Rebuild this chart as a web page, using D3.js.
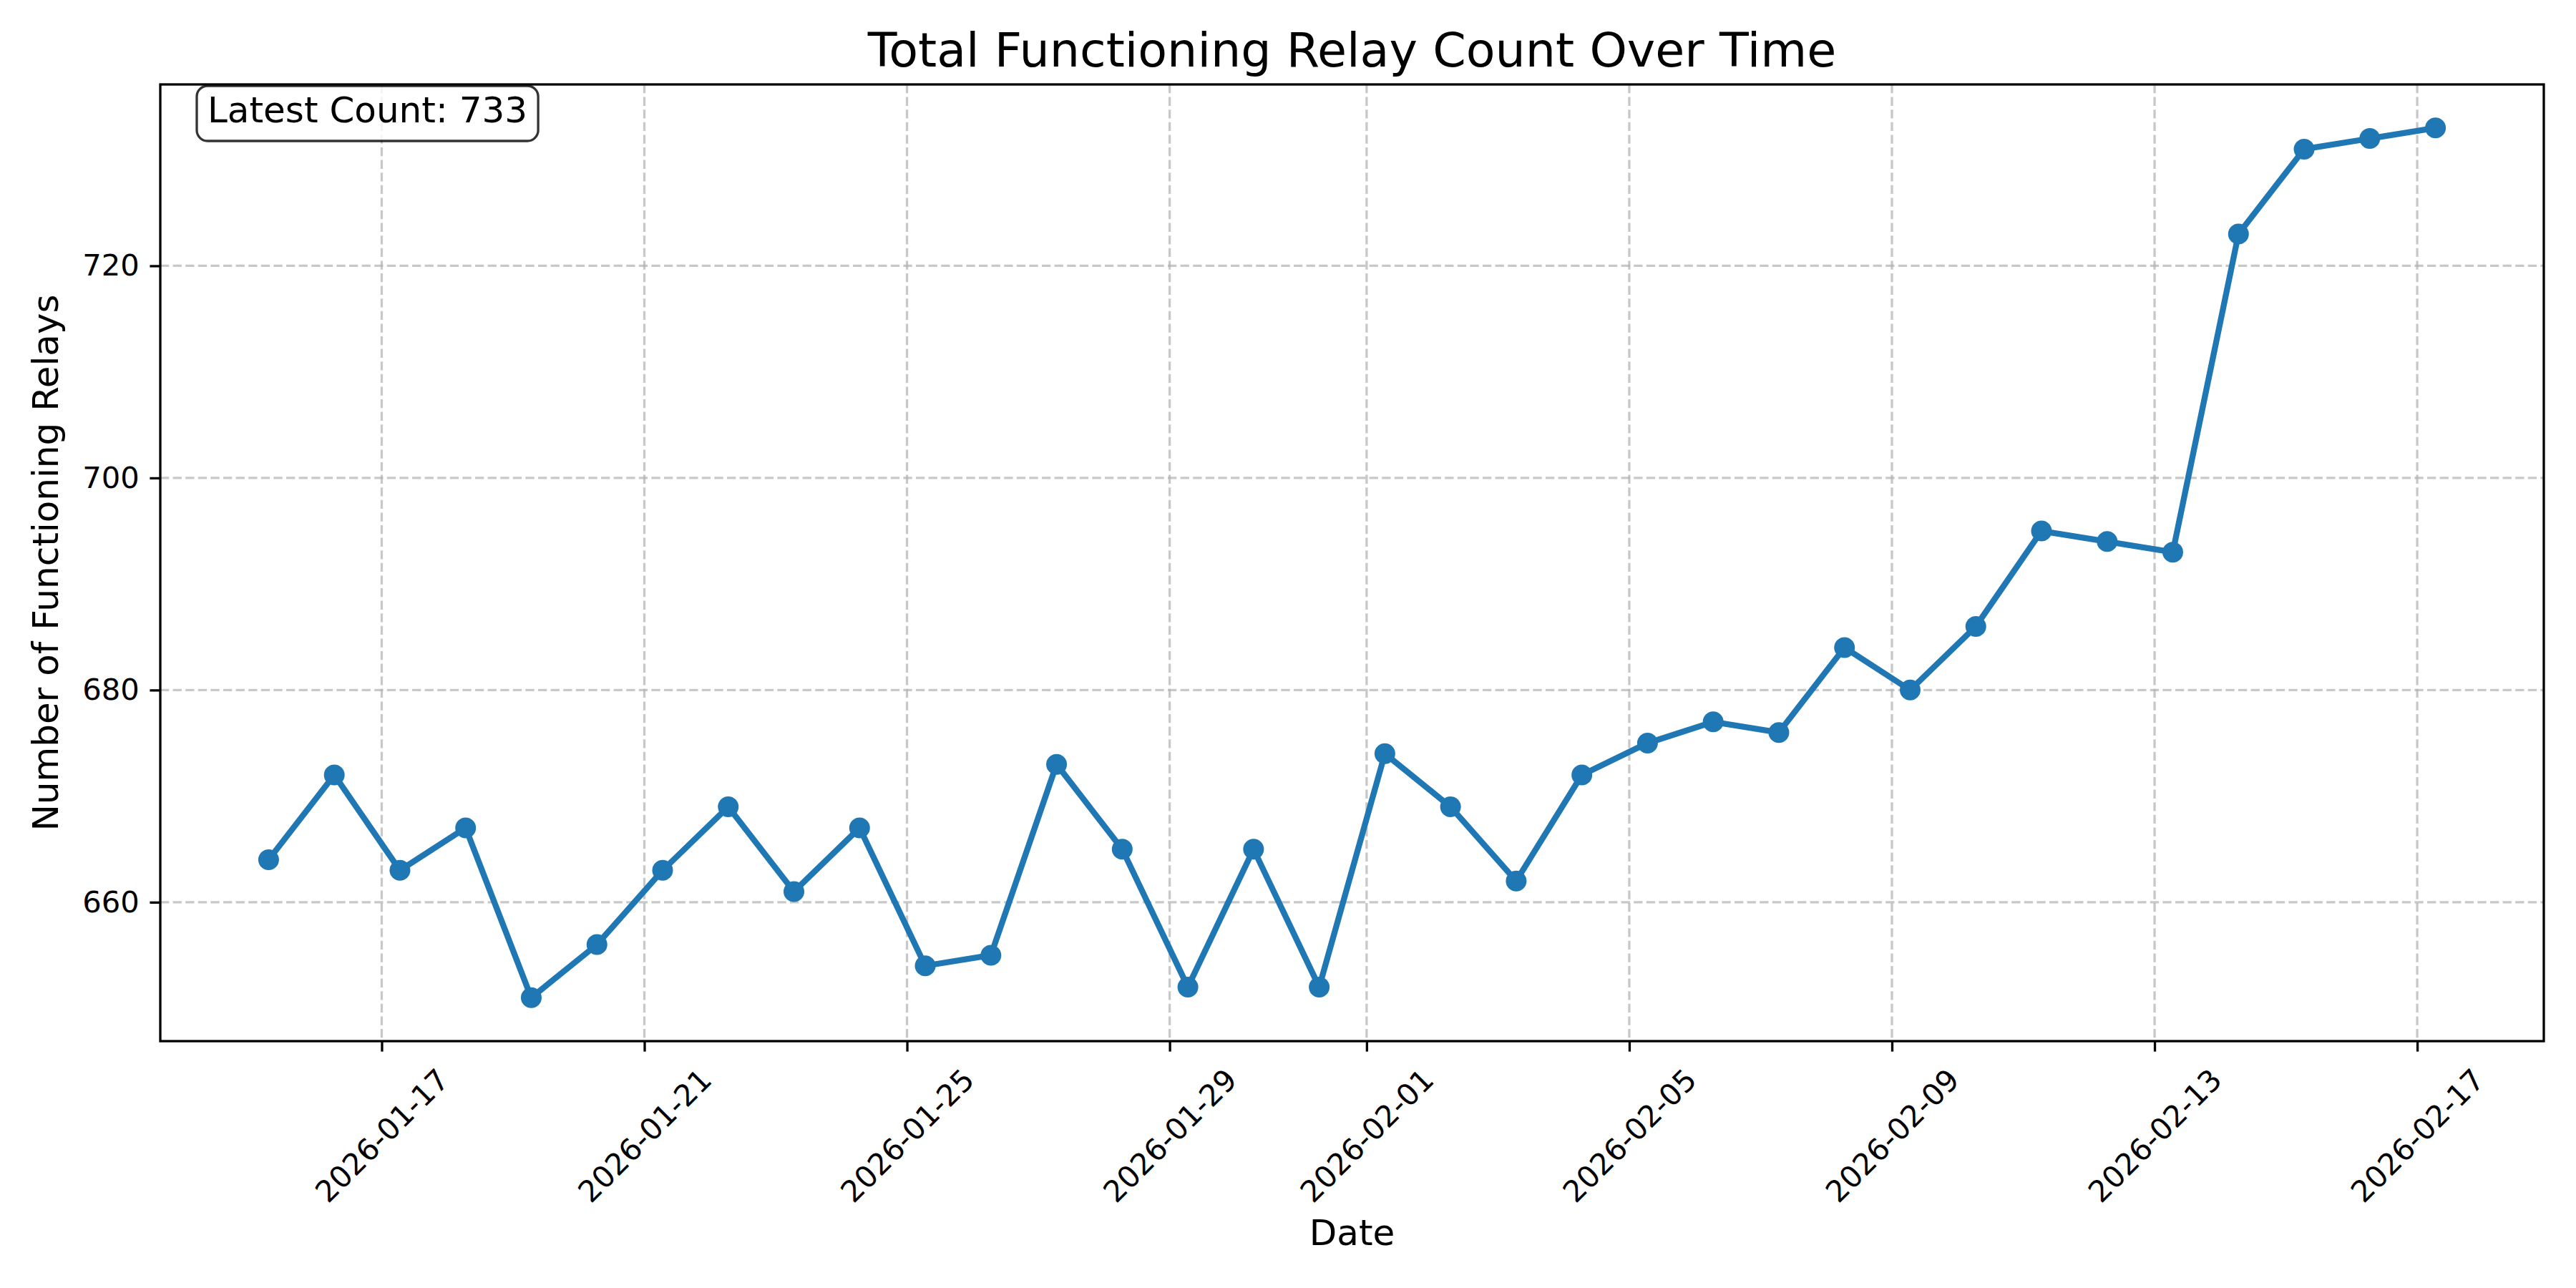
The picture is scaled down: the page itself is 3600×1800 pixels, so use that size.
<!DOCTYPE html>
<html>
<head>
<meta charset="utf-8">
<script src="https://cdn.jsdelivr.net/npm/d3@7"></script>
<style>
    body { margin: 0; background: white; }
    text { font-family: "DejaVu Sans", sans-serif; fill: black; }
</style>
</head>
<body>
<div id="chart"></div>
<script>
// snapshot times (UTC) and relay counts
const dates = [
    "2026-01-15 06:40", "2026-01-16 06:40", "2026-01-17 06:40", "2026-01-18 06:40",
    "2026-01-19 06:40", "2026-01-20 06:40", "2026-01-21 06:40", "2026-01-22 06:40",
    "2026-01-23 06:40", "2026-01-24 06:40", "2026-01-25 06:40", "2026-01-26 06:40",
    "2026-01-27 06:40", "2026-01-28 06:40", "2026-01-29 06:40", "2026-01-30 06:40",
    "2026-01-31 06:40", "2026-02-01 06:40", "2026-02-02 06:40", "2026-02-03 06:40",
    "2026-02-04 06:40", "2026-02-05 06:40", "2026-02-06 06:40", "2026-02-07 06:40",
    "2026-02-08 06:40", "2026-02-09 06:40", "2026-02-10 06:40", "2026-02-11 06:40",
    "2026-02-12 06:40", "2026-02-13 06:40", "2026-02-14 06:40", "2026-02-15 06:40",
    "2026-02-16 06:40", "2026-02-17 06:40"
];
const relayCounts = [
    664, 672, 663, 667, 651, 656, 663, 669, 661, 667, 654, 655,
    673, 665, 652, 665, 652, 674, 669, 662, 672, 675, 677, 676,
    684, 680, 686, 695, 694, 693, 723, 731, 732, 733
];
const xTickLabels = [
    "2026-01-17", "2026-01-21", "2026-01-25", "2026-01-29", "2026-02-01",
    "2026-02-05", "2026-02-09", "2026-02-13", "2026-02-17"
];
const yTickValues = [660, 680, 700, 720];

const titleText = "Total Functioning Relay Count Over Time";
const xLabelText = "Date";
const yLabelText = "Number of Functioning Relays";

class RelayCountChart {
    constructor(DOM_ID, width, height) {
        this.id = DOM_ID;
        this.width = width;
        this.height = height;
        this.margin = { left: 224, right: 45, top: 118, bottom: 345 };
        this.lineColor = "#1f77b4";
        this.gridColor = "#b0b0b0";

        let parse = d3.utcParse("%Y-%m-%d %H:%M");
        this.data = dates.map(function (d, i) { return { date: parse(d), value: relayCounts[i] }; });

        // matplotlib style 5% margins on both axes
        let tExt = d3.extent(this.data, d => d.date.getTime());
        let tPad = (tExt[1] - tExt[0]) * 0.05;
        let vExt = d3.extent(this.data, d => d.value);
        let vPad = (vExt[1] - vExt[0]) * 0.05;

        this.x = d3.scaleUtc()
            .domain([new Date(tExt[0] - tPad), new Date(tExt[1] + tPad)])
            .range([this.margin.left, this.width - this.margin.right]);
        this.y = d3.scaleLinear()
            .domain([vExt[0] - vPad, vExt[1] + vPad])
            .range([this.height - this.margin.bottom, this.margin.top]);

        this.render();
    }

    render() {
        this.svg = d3.select("#" + this.id)
            .append("svg")
            .attr("width", this.width)
            .attr("height", this.height)
            .style("background-color", "white");

        this.renderGrid();
        this.renderLine();
        this.renderAxes();
        this.renderLabels();
        this.renderLatestBox();
    }

    renderGrid() {
        let that = this;
        let x0 = this.margin.left, x1 = this.width - this.margin.right;
        let y0 = this.margin.top, y1 = this.height - this.margin.bottom;
        let xTicks = xTickLabels.map(d3.utcParse("%Y-%m-%d"));

        let grid = this.svg.append("g").attr("class", "grid")
            .attr("stroke", this.gridColor)
            .attr("stroke-opacity", 0.7)
            .attr("stroke-width", 3.3)
            .attr("stroke-dasharray", "12.3,5.3");

        grid.selectAll(".vgrid")
            .data(xTicks)
            .enter()
            .append("line")
            .attr("x1", d => that.x(d)).attr("x2", d => that.x(d))
            .attr("y1", y0).attr("y2", y1);

        grid.selectAll(".hgrid")
            .data(yTickValues)
            .enter()
            .append("line")
            .attr("x1", x0).attr("x2", x1)
            .attr("y1", d => that.y(d)).attr("y2", d => that.y(d));
    }

    renderLine() {
        let that = this;
        let line = d3.line()
            .x(d => that.x(d.date))
            .y(d => that.y(d.value));

        this.svg.append("path")
            .datum(this.data)
            .attr("d", line)
            .attr("fill", "none")
            .attr("stroke", this.lineColor)
            .attr("stroke-width", 8.3)
            .attr("stroke-linejoin", "round")
            .attr("stroke-linecap", "square");

        this.svg.selectAll(".marker")
            .data(this.data)
            .enter()
            .append("circle")
            .attr("class", "marker")
            .attr("cx", d => that.x(d.date))
            .attr("cy", d => that.y(d.value))
            .attr("r", 14.5)
            .attr("fill", this.lineColor);
    }

    renderAxes() {
        let x0 = this.margin.left, x1 = this.width - this.margin.right;
        let y0 = this.margin.top, y1 = this.height - this.margin.bottom;
        let xTicks = xTickLabels.map(d3.utcParse("%Y-%m-%d"));

        let xAxis = d3.axisBottom(this.x)
            .tickValues(xTicks)
            .tickFormat(d3.utcFormat("%Y-%m-%d"))
            .tickSizeInner(14.6)
            .tickSizeOuter(0)
            .tickPadding(14.6);
        let gx = this.svg.append("g")
            .attr("transform", "translate(0," + y1 + ")")
            .call(xAxis);
        gx.select(".domain").remove();
        gx.selectAll(".tick line").attr("stroke", "black").attr("stroke-width", 3.3);
        gx.selectAll(".tick text")
            .style("font-size", "41.7px")
            .attr("text-anchor", "middle")
            .attr("dy", "0.35em")
            .attr("y", 0)
            .attr("transform", function () {
                // center of rotated label sits below the tick, top of its box at tick + pad
                let w = this.getComputedTextLength();
                let h = 41.7 * 1.164;
                let half = (w + h) * Math.SQRT1_2 / 2;
                return "translate(0," + (14.6 + 14.6 + half) + ") rotate(-45)";
            });

        let yAxis = d3.axisLeft(this.y)
            .tickValues(yTickValues)
            .tickFormat(d3.format("d"))
            .tickSizeInner(14.6)
            .tickSizeOuter(0)
            .tickPadding(14.6);
        let gy = this.svg.append("g")
            .attr("transform", "translate(" + x0 + ",0)")
            .call(yAxis);
        gy.select(".domain").remove();
        gy.selectAll(".tick line").attr("stroke", "black").attr("stroke-width", 3.3);
        gy.selectAll(".tick text").style("font-size", "41.7px");

        // axes frame
        this.svg.append("rect")
            .attr("x", x0).attr("y", y0)
            .attr("width", x1 - x0).attr("height", y1 - y0)
            .attr("fill", "none")
            .attr("stroke", "black")
            .attr("stroke-width", 3.3);
    }

    renderLabels() {
        let cx = (this.margin.left + this.width - this.margin.right) / 2;
        let cy = (this.margin.top + this.height - this.margin.bottom) / 2;

        this.svg.append("text")
            .text(titleText)
            .attr("x", cx)
            .attr("y", 93)
            .attr("text-anchor", "middle")
            .style("font-size", "66.7px");

        this.svg.append("text")
            .text(xLabelText)
            .attr("x", cx)
            .attr("y", 1740)
            .attr("text-anchor", "middle")
            .style("font-size", "50px");

        this.svg.append("text")
            .text(yLabelText)
            .attr("text-anchor", "middle")
            .attr("transform", "translate(81," + cy + ") rotate(-90)")
            .style("font-size", "50px");
    }

    renderLatestBox() {
        let latest = relayCounts[relayCounts.length - 1];
        let g = this.svg.append("g").attr("class", "latest");
        let rect = g.append("rect")
            .attr("fill", "white")
            .attr("fill-opacity", 0.8)
            .attr("stroke", "black")
            .attr("stroke-opacity", 0.8)
            .attr("stroke-width", 3.3)
            .attr("rx", 15).attr("ry", 15);
        let label = g.append("text")
            .text("Latest Count: " + latest)
            .attr("x", 290)
            .attr("y", 171)
            .style("font-size", "50px");
        let w = label.node().getComputedTextLength();
        rect.attr("x", 275).attr("y", 120)
            .attr("width", w + 30).attr("height", 77);
    }
}

new RelayCountChart("chart", 3600, 1800);
</script>
</body>
</html>
